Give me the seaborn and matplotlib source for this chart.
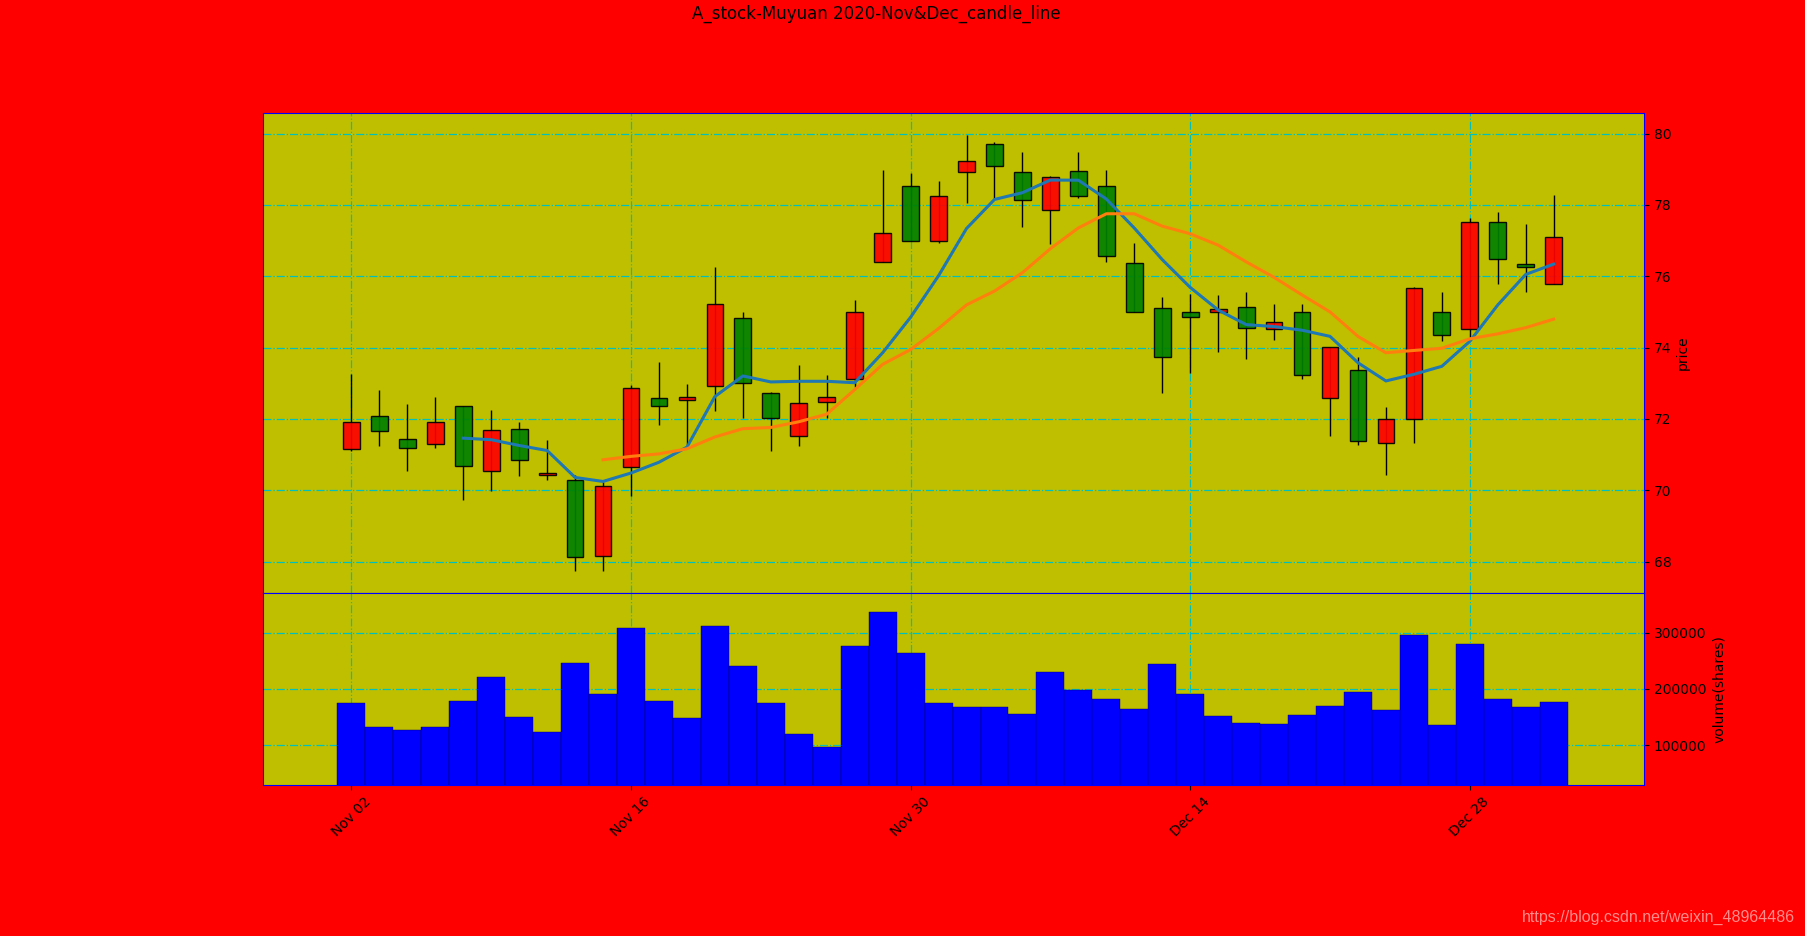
import numpy as np
import pandas as pd
import matplotlib
matplotlib.use("Agg")
import matplotlib.pyplot as plt
import seaborn as sns

# ── data ──────────────────────────────────────────────────────────────────────
dates = pd.bdate_range("2020-11-02", "2020-12-31")

open_ = [71.15, 72.07, 71.43, 71.29, 72.35, 70.53, 71.71, 70.42, 70.28, 68.15,
         70.64, 72.58, 72.52, 72.92, 74.82, 72.72, 71.51, 72.46, 73.11, 76.39,
         78.52, 77.00, 78.91, 79.72, 78.91, 77.87, 78.94, 78.52, 76.36, 75.10,
         75.01, 75.01, 75.13, 74.51, 75.01, 72.58, 73.36, 71.32, 71.99, 75.01,
         74.51, 77.51, 76.33, 75.77]
close = [71.90, 71.65, 71.18, 71.90, 70.67, 71.68, 70.84, 70.48, 68.12, 70.11,
         72.86, 72.35, 72.60, 75.21, 73.00, 72.02, 72.44, 72.60, 75.01, 77.20,
         77.00, 78.26, 79.22, 79.08, 78.15, 78.77, 78.24, 76.58, 75.01, 73.73,
         74.87, 75.07, 74.54, 74.73, 73.22, 74.01, 71.37, 71.99, 75.66, 74.34,
         77.51, 76.47, 76.27, 77.11]
high = [73.25, 72.80, 72.41, 72.60, 72.35, 72.26, 71.90, 71.40, 70.43, 70.24,
        72.95, 73.59, 72.97, 76.27, 75.01, 72.75, 73.50, 73.22, 75.32, 78.99,
        78.88, 78.68, 79.97, 79.77, 79.47, 78.80, 79.49, 78.99, 76.94, 75.41,
        75.49, 75.46, 75.57, 75.21, 75.21, 74.01, 73.74, 72.32, 75.70, 75.57,
        77.62, 77.79, 77.45, 78.29]
low = [71.10, 71.24, 70.54, 71.18, 69.73, 69.98, 70.40, 70.29, 67.73, 67.73,
       69.84, 71.83, 71.27, 72.21, 72.02, 71.10, 71.23, 72.02, 72.90, 76.39,
       77.00, 76.92, 78.04, 78.20, 77.39, 76.89, 78.20, 76.41, 75.01, 72.72,
       73.28, 73.87, 73.68, 74.20, 73.11, 71.51, 71.26, 70.42, 71.32, 74.17,
       74.29, 75.77, 75.55, 75.77]
volume = [174900, 132400, 127100, 132400, 178400, 220900, 150100, 123600, 245700, 190800,
          307600, 178400, 148300, 311100, 240900, 174900, 120000, 97500, 275800, 335900,
          263400, 174900, 167800, 167800, 155400, 229700, 198300, 182000, 164200, 243900,
          190800, 151900, 139500, 137700, 153600, 169600, 194300, 163000, 295900, 135800,
          279300, 182000, 167800, 176600]

tick_dates = ["2020-11-02", "2020-11-16", "2020-11-30", "2020-12-14", "2020-12-28"]
tick_labels = ["Nov 02", "Nov 16", "Nov 30", "Dec 14", "Dec 28"]

df = pd.DataFrame({"open": open_, "close": close, "high": high, "low": low,
                   "volume": volume}, index=dates)
df["idx"] = np.arange(len(df))
df["ma5"] = df["close"].rolling(5).mean()
df["ma10"] = df["close"].rolling(10).mean()
tick_pos = [dates.get_loc(pd.Timestamp(d)) for d in tick_dates]

# ── figure ────────────────────────────────────────────────────────────────────
W, H = 1806, 936
fig = plt.figure(figsize=(W / 100, H / 100), dpi=100, facecolor="r")
ax1 = fig.add_axes([262.5 / W, 1 - 593.3 / H, (1644 - 262.5) / W, (593.3 - 112.5) / H])
ax2 = fig.add_axes([262.5 / W, 1 - 785 / H, (1644 - 262.5) / W, (785 - 593.3) / H])

for ax in (ax1, ax2):
    ax.set_facecolor("y")
    for sp in ax.spines.values():
        sp.set_color("b")

# candles: red up, green down
up = df["close"] >= df["open"]
body_lo = np.minimum(df["open"], df["close"])
body_h = (df["close"] - df["open"]).abs()
ax1.vlines(df["idx"], df["low"], df["high"], color="k", lw=1, zorder=2)
ax1.bar(df["idx"], body_h, bottom=body_lo, width=0.6,
        color=np.where(up, "r", "g"), alpha=0.92, edgecolor="k", lw=1, zorder=3)

sns.lineplot(x=df["idx"], y=df["ma5"], ax=ax1, color="C0", lw=2.2, zorder=4)
sns.lineplot(x=df["idx"], y=df["ma10"], ax=ax1, color="C1", lw=2.2, zorder=4)

sns.barplot(x=df["idx"], y=df["volume"], ax=ax2, color="b", saturation=1,
            width=1, edgecolor="#000060", linewidth=0.3, errorbar=None)

# axes setup
for ax in (ax1, ax2):
    ax.set_xlim(-3.18, 46.23)
    ax.set_xticks(tick_pos)
    ax.yaxis.tick_right()
    ax.yaxis.set_label_position("right")
    ax.grid(True, color="c", linestyle="-.", lw=0.9)
    ax.set_axisbelow(True)
    ax.tick_params(labelsize=10)

ax1.set_ylim(67.11, 80.59)
ax1.set_yticks(np.arange(68, 81, 2))
ax1.tick_params(axis="x", length=0, labelbottom=False)
ax1.set_xlabel("")
ax1.set_ylabel("price", fontsize=10, labelpad=3)

ax2.set_ylim(29700, 369500)
ax2.set_yticks([100000, 200000, 300000])
ax2.set_yticklabels(["100000", "200000", "300000"])
ax2.set_xticklabels(tick_labels, rotation=45, ha="center")
ax2.set_xlabel("")
ax2.set_ylabel("volume(shares)", fontsize=10, labelpad=4)

fig.suptitle("A_stock-Muyuan 2020-Nov&Dec_candle_line", x=876 / W, y=0.995,
             va="top", fontsize=12)
fig.text(1795 / W, 1 - 917 / H, "https://blog.csdn.net/weixin_48964486",
         ha="right", va="center", fontsize=11.5, color="white", alpha=0.55,
         family="Liberation Sans")

fig.savefig("out.png", dpi=100, facecolor=fig.get_facecolor())
